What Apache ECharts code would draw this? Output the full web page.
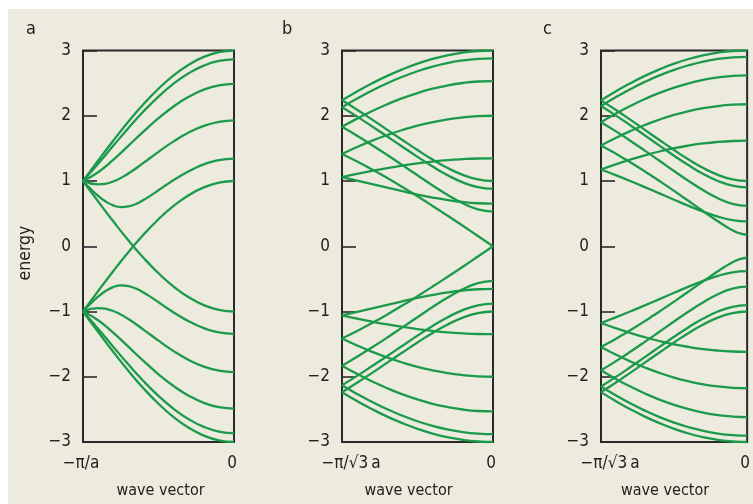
<!DOCTYPE html>
<html><head><meta charset="utf-8">
<script src="https://cdn.jsdelivr.net/npm/echarts@6/dist/echarts.min.js"></script>
<style>
html,body{margin:0;padding:0;background:#fff;}
#bg{position:absolute;left:8px;top:9px;width:745px;height:495px;background:#edeade;}
#c{position:absolute;left:0;top:0;width:753px;height:504px;}
</style>
</head><body><div id="bg"></div><div id="c"></div>
<script>
// wave vector samples: -1 = zone edge (left), 0 = zone centre (right)
const K = [-1, -0.9, -0.8, -0.7, -0.6, -0.5, -0.4, -0.3, -0.2, -0.1, 0];
// finer sampling for bands with strong curvature
const KF = [-1, -0.95, -0.9, -0.85, -0.8, -0.75, -0.7, -0.65, -0.6, -0.55, -0.5,
            -0.45, -0.4, -0.35, -0.3, -0.25, -0.2, -0.15, -0.1, -0.05, 0];
const Y_TICK_LABELS = {"-3":"\u22123","-2":"\u22122","-1":"\u22121","0":"0","1":"1","2":"2","3":"3"};
const X_LABELS_A = ["\u2212\u03c0/a", "0"];
const X_LABELS_BC = ["\u2212\u03c0/\u221a3\u2009a", "0"];
const PANEL_LETTERS = ["a", "b", "c"];
const X_NAME = "wave vector";
const Y_NAME = "energy";

// panel a
const a1 = [1, 1.313, 1.618, 1.908, 2.176, 2.414, 2.618, 2.782, 2.902, 2.975, 3];
const a2 = [1, 1.264, 1.540, 1.810, 2.065, 2.294, 2.491, 2.651, 2.768, 2.840, 2.864];
const a3 = [1, 1.134, 1.324, 1.539, 1.757, 1.962, 2.142, 2.290, 2.400, 2.467, 2.490];
const a4 = [1, 0.948, 0.993, 1.115, 1.277, 1.447, 1.607, 1.742, 1.844, 1.907, 1.929];
const a5 = [1, 0.880, 0.773, 0.686, 0.627, 0.601, 0.610, 0.648, 0.708, 0.780, 0.859,
            0.938, 1.015, 1.086, 1.151, 1.207, 1.255, 1.293, 1.320, 1.336, 1.342];
const a6 = [1, 0.687, 0.382, 0.092, -0.176, -0.414, -0.618, -0.782, -0.902, -0.975, -1];
const a7 = [-1, -1.313, -1.618, -1.908, -2.176, -2.414, -2.618, -2.782, -2.902, -2.975, -3];
const a8 = [-1, -1.264, -1.540, -1.810, -2.065, -2.294, -2.491, -2.651, -2.768, -2.840, -2.864];
const a9 = [-1, -1.134, -1.324, -1.539, -1.757, -1.962, -2.142, -2.290, -2.400, -2.467, -2.490];
const a10 = [-1, -0.948, -0.993, -1.115, -1.277, -1.447, -1.607, -1.742, -1.844, -1.907, -1.929];
const a11 = [-1, -0.880, -0.773, -0.686, -0.627, -0.601, -0.610, -0.648, -0.708, -0.780, -0.859,
             -0.938, -1.015, -1.086, -1.151, -1.207, -1.255, -1.293, -1.320, -1.336, -1.342];
const a12 = [-1, -0.687, -0.382, -0.092, 0.176, 0.414, 0.618, 0.782, 0.902, 0.975, 1];

// panel b
const b1 = [2.236, 2.372, 2.497, 2.611, 2.711, 2.798, 2.870, 2.926, 2.967, 2.992, 3];
const b2 = [2.129, 2.263, 2.387, 2.498, 2.597, 2.682, 2.753, 2.808, 2.848, 2.872, 2.880];
const b3 = [1.830, 1.956, 2.072, 2.177, 2.269, 2.348, 2.414, 2.465, 2.502, 2.525, 2.532];
const b4 = [1.414, 1.521, 1.618, 1.705, 1.782, 1.848, 1.902, 1.945, 1.975, 1.994, 2];
const b5 = [1.059, 1.109, 1.156, 1.199, 1.237, 1.270, 1.298, 1.320, 1.335, 1.345, 1.348];
const b6 = [1.059, 1.006, 0.952, 0.897, 0.844, 0.793, 0.747, 0.708, 0.678, 0.659, 0.652];
const b7 = [1.414, 1.299, 1.176, 1.045, 0.908, 0.765, 0.618, 0.467, 0.313, 0.157, 0];
const b8 = [1.830, 1.693, 1.549, 1.399, 1.243, 1.087, 0.932, 0.786, 0.658, 0.566, 0.532];
const b9 = [2.129, 1.987, 1.836, 1.682, 1.525, 1.370, 1.222, 1.088, 0.979, 0.906, 0.880];
const b10 = [2.236, 2.092, 1.940, 1.784, 1.628, 1.474, 1.328, 1.198, 1.094, 1.024, 1];
const b11 = [-2.236, -2.372, -2.497, -2.611, -2.711, -2.798, -2.870, -2.926, -2.967, -2.992, -3];
const b12 = [-2.129, -2.263, -2.387, -2.498, -2.597, -2.682, -2.753, -2.808, -2.848, -2.872, -2.880];
const b13 = [-1.830, -1.956, -2.072, -2.177, -2.269, -2.348, -2.414, -2.465, -2.502, -2.525, -2.532];
const b14 = [-1.414, -1.521, -1.618, -1.705, -1.782, -1.848, -1.902, -1.945, -1.975, -1.994, -2];
const b15 = [-1.059, -1.109, -1.156, -1.199, -1.237, -1.270, -1.298, -1.320, -1.335, -1.345, -1.348];
const b16 = [-1.059, -1.006, -0.952, -0.897, -0.844, -0.793, -0.747, -0.708, -0.678, -0.659, -0.652];
const b17 = [-1.414, -1.299, -1.176, -1.045, -0.908, -0.765, -0.618, -0.467, -0.313, -0.157, 0];
const b18 = [-1.830, -1.693, -1.549, -1.399, -1.243, -1.087, -0.932, -0.786, -0.658, -0.566, -0.532];
const b19 = [-2.129, -1.987, -1.836, -1.682, -1.525, -1.370, -1.222, -1.088, -0.979, -0.906, -0.880];
const b20 = [-2.236, -2.092, -1.940, -1.784, -1.628, -1.474, -1.328, -1.198, -1.094, -1.024, -1];

// panel c
const c1 = [2.236, 2.372, 2.497, 2.611, 2.711, 2.798, 2.870, 2.926, 2.967, 2.992, 3];
const c2 = [2.149, 2.283, 2.407, 2.519, 2.618, 2.703, 2.774, 2.830, 2.870, 2.894, 2.902];
const c3 = [1.902, 2.031, 2.149, 2.256, 2.350, 2.430, 2.497, 2.550, 2.588, 2.610, 2.618];
const c4 = [1.544, 1.659, 1.764, 1.858, 1.941, 2.012, 2.070, 2.116, 2.149, 2.169, 2.176];
const c5 = [1.176, 1.255, 1.328, 1.394, 1.452, 1.502, 1.543, 1.576, 1.599, 1.613, 1.618];
const c6 = [1.176, 1.090, 1.000, 0.906, 0.810, 0.713, 0.618, 0.530, 0.454, 0.401, 0.382];
const c7 = [1.544, 1.483, 1.420, 1.354, 1.287, 1.218, 1.147, 1.074, 1.000, 0.925, 0.848,
            0.771, 0.693, 0.615, 0.536, 0.458, 0.382, 0.310, 0.245, 0.196, 0.176];
const c8 = [1.902, 1.764, 1.618, 1.466, 1.310, 1.153, 1.000, 0.857, 0.735, 0.649, 0.618];
const c9 = [2.149, 2.006, 1.855, 1.700, 1.543, 1.388, 1.241, 1.108, 1.000, 0.928, 0.902];
const c10 = [2.236, 2.092, 1.940, 1.784, 1.628, 1.474, 1.328, 1.198, 1.094, 1.024, 1];
const c11 = [-2.236, -2.372, -2.497, -2.611, -2.711, -2.798, -2.870, -2.926, -2.967, -2.992, -3];
const c12 = [-2.149, -2.283, -2.407, -2.519, -2.618, -2.703, -2.774, -2.830, -2.870, -2.894, -2.902];
const c13 = [-1.902, -2.031, -2.149, -2.256, -2.350, -2.430, -2.497, -2.550, -2.588, -2.610, -2.618];
const c14 = [-1.544, -1.659, -1.764, -1.858, -1.941, -2.012, -2.070, -2.116, -2.149, -2.169, -2.176];
const c15 = [-1.176, -1.255, -1.328, -1.394, -1.452, -1.502, -1.543, -1.576, -1.599, -1.613, -1.618];
const c16 = [-1.176, -1.090, -1.000, -0.906, -0.810, -0.713, -0.618, -0.530, -0.454, -0.401, -0.382];
const c17 = [-1.544, -1.483, -1.420, -1.354, -1.287, -1.218, -1.147, -1.074, -1.000, -0.925, -0.848,
             -0.771, -0.693, -0.615, -0.536, -0.458, -0.382, -0.310, -0.245, -0.196, -0.176];
const c18 = [-1.902, -1.764, -1.618, -1.466, -1.310, -1.153, -1.000, -0.857, -0.735, -0.649, -0.618];
const c19 = [-2.149, -2.006, -1.855, -1.700, -1.543, -1.388, -1.241, -1.108, -1.000, -0.928, -0.902];
const c20 = [-2.236, -2.092, -1.940, -1.784, -1.628, -1.474, -1.328, -1.198, -1.094, -1.024, -1];

const BANDS = [
  [a1,a2,a3,a4,a5,a6,a7,a8,a9,a10,a11,a12],
  [b1,b2,b3,b4,b5,b6,b7,b8,b9,b10,b11,b12,b13,b14,b15,b16,b17,b18,b19,b20],
  [c1,c2,c3,c4,c5,c6,c7,c8,c9,c10,c11,c12,c13,c14,c15,c16,c17,c18,c19,c20]
];

const FONT = '"DejaVu Sans Condensed","Liberation Sans Narrow",sans-serif';
const GREEN = '#1c9a4b';
const INK = '#2a2a2a';
const TXT = '#222';
const LEFTS = [83, 342, 601];
const XLAB = [X_LABELS_A, X_LABELS_BC, X_LABELS_BC];
const LO_PAD = [[0,4,0,0],[0,0,0,18],[0,0,0,18]];
const NAME_PAD = [[0,0,0,4],[0,18,0,0],[0,18,0,0]];
const LETTER_X = [26, 282, 543];

const grids = [], xAxes = [], yAxes = [], series = [];
for (let p = 0; p < 3; p++) {
  grids.push({left: LEFTS[p], top: 50.5, width: 151, height: 397, show: true,
    borderColor: INK, borderWidth: 2, backgroundColor: 'transparent'});
  const labs = XLAB[p];
  xAxes.push({type: 'value', gridIndex: p, min: -1, max: 0, interval: 1,
    axisLine: {show: false, onZero: false}, axisTick: {show: false}, splitLine: {show: false},
    axisLabel: {margin: 13, color: TXT, fontFamily: FONT, fontSize: 17,
      formatter: v => (v === -1 ? '{lo|' + labs[0] + '}' : (v === 0 ? '{hi|' + labs[1] + '}' : '')),
      rich: {
        lo: {fontSize: 17, color: TXT, fontFamily: FONT, padding: LO_PAD[p]},
        hi: {fontSize: 17, color: TXT, fontFamily: FONT, padding: [0,4,0,0]}
      }},
    name: X_NAME, nameLocation: 'middle', nameGap: 41,
    nameTextStyle: {fontSize: 16, color: TXT, fontFamily: FONT, padding: NAME_PAD[p]}});
  yAxes.push({type: 'value', gridIndex: p, min: -3, max: 3, interval: 1,
    axisLine: {show: false, onZero: false}, splitLine: {show: false},
    axisTick: {show: true, inside: true, length: 14, lineStyle: {color: INK, width: 1.6}},
    axisLabel: {margin: 12, fontSize: 17, color: TXT, fontFamily: FONT,
      formatter: v => Y_TICK_LABELS[String(v)]}});
  BANDS[p].forEach(arr => {
    const xs = arr.length === KF.length ? KF : K;
    series.push({type: 'line', xAxisIndex: p, yAxisIndex: p, smooth: true,
      symbol: 'none', silent: true, clip: true,
      lineStyle: {color: GREEN, width: 2.3},
      data: xs.map((k, i) => [k, arr[i]])});
  });
}

const graphic = PANEL_LETTERS.map((t, i) => ({type: 'text', left: LETTER_X[i], top: 20,
  style: {text: t, fontSize: 18, fill: TXT, fontFamily: FONT}}));
graphic.push({type: 'text', x: 25, y: 253, rotation: Math.PI / 2,
  style: {text: Y_NAME, fontSize: 17.5, fill: TXT, fontFamily: FONT, align: 'center', verticalAlign: 'middle'}});

const chart = echarts.init(document.getElementById('c'));
chart.setOption({
  backgroundColor: 'transparent',
  animation: false,
  grid: grids, xAxis: xAxes, yAxis: yAxes, series: series, graphic: graphic
});
</script>
</body></html>
